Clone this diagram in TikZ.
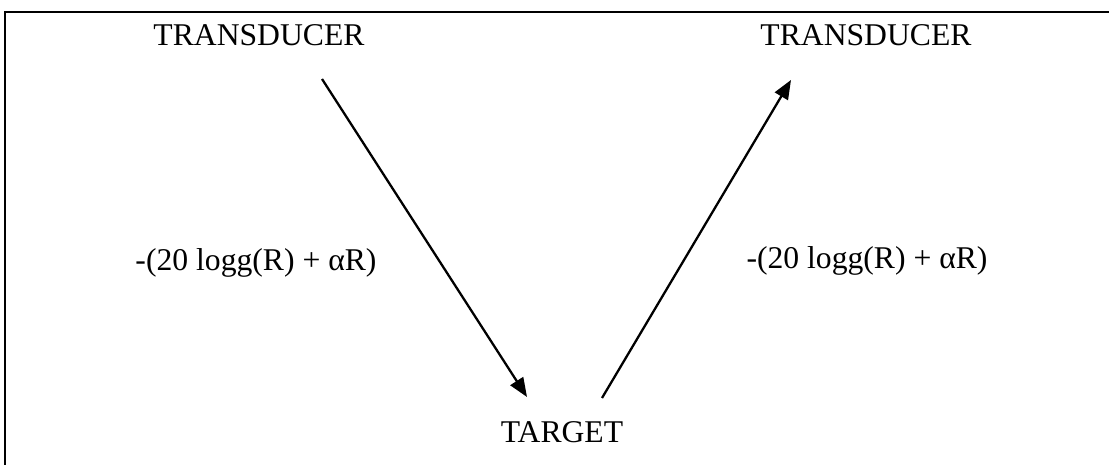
\documentclass[tikz,border=0pt]{standalone}
\usepackage{fontspec}
\setmainfont{Liberation Serif}
\usepackage{tikz}
\usetikzlibrary{arrows.meta, positioning}

\begin{document}
\begin{tikzpicture}[
  x=0.01cm, y=-0.01cm,
  label/.style={inner sep=0pt, font=\fontsize{9}{11}\selectfont},
  arrow/.style={-{Triangle[length=0.19cm, width=0.15cm]}, line width=0.65pt},
  frame/.style={line width=0.8pt},
]
\useasboundingbox (0,0) rectangle (1109,465);

% Rahmen
\draw[frame] (1130,12) -- (5,12) -- (5,480);

% Schallwandler
\node[label] (trans1) at (259,35) {TRANSDUCER};
\node[label] (trans2) at (866,35) {TRANSDUCER};

% Ziel
\node[label] (target) at (562,432) {TARGET};

% Verluste
\node[label] (loss1) at (256,263) {-(20 logg(R) + αR)};
\node[label] (loss2) at (867,261) {-(20 logg(R) + αR)};

% Pfeilenden
\coordinate (out1) at (322,79);
\coordinate (in1) at (527,397);
\coordinate (out2) at (602,398);
\coordinate (in2) at (791,80);

% Pfeile
\draw[arrow] (out1) -- (in1);
\draw[arrow] (out2) -- (in2);

\end{tikzpicture}
\end{document}
